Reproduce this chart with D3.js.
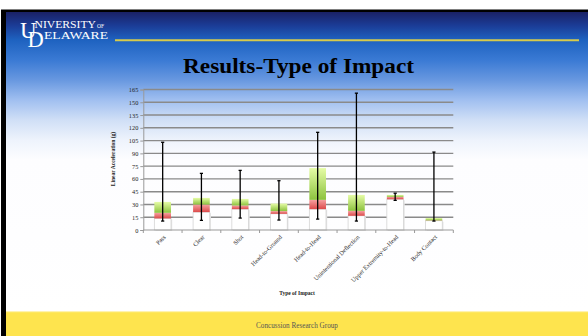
<!DOCTYPE html>
<html><head><meta charset="utf-8">
<script src="https://cdn.jsdelivr.net/npm/d3@7"></script>
<style>html,body{margin:0;padding:0;background:#fff;}svg{display:block;}</style>
</head><body>
<svg id="c" width="588" height="336"></svg>
<script>
const categories = ["Pass","Clear","Shot","Head-to-Ground","Head-to-Head","Unintentional Deflection","Upper Extremity-to-Head","Body Contact"];
const minVals    = [10.5, 11.3, 14.0, 11.7, 12.8, 10.5, 34.8, 10.5];
const q1Vals     = [13.6, 21.0, 24.5, 19.0, 24.5, 16.7, 36.1, 10.9];
const medVals    = [20.2, 29.9, 28.8, 22.2, 35.4, 22.5, 38.9, 11.3];
const q3Vals     = [33.0, 37.7, 36.5, 31.1, 72.7, 41.2, 41.2, 14.0];
const maxVals    = [103.0, 66.5, 70.0, 57.9, 114.7, 160.7, 43.2, 91.5];
const yTicks     = [0,15,30,45,60,75,90,105,120,135,150,165];

const svg = d3.select("#c");
const defs = svg.append("defs");
const bg = defs.append("linearGradient").attr("id","bg").attr("x1",0).attr("y1",0).attr("x2",0).attr("y2",1);
[[0,"#1a2166"],[0.045,"#1b3c96"],[0.093,"#1e62c0"],[0.16,"#3a7ad4"],[0.227,"#6898e0"],[0.293,"#a0bff0"],[0.36,"#d0dff6"],[0.427,"#eef3fc"],[0.493,"#fdfdff"],[1,"#ffffff"]]
  .forEach(s=>bg.append("stop").attr("offset",s[0]).attr("stop-color",s[1]));
const gG = defs.append("linearGradient").attr("id","gG").attr("x1",0).attr("y1",0).attr("x2",0).attr("y2",1);
gG.append("stop").attr("offset",0).attr("stop-color","#e6fca6");
gG.append("stop").attr("offset",1).attr("stop-color","#8cc23e");
const gR = defs.append("linearGradient").attr("id","gR").attr("x1",0).attr("y1",0).attr("x2",0).attr("y2",1);
gR.append("stop").attr("offset",0).attr("stop-color","#f5a0a0");
gR.append("stop").attr("offset",1).attr("stop-color","#dc4a4a");

// slide frame
svg.append("rect").attr("x",1).attr("y",9.5).attr("width",587).attr("height",327).attr("fill","#000");
svg.append("rect").attr("x",6).attr("y",12).attr("width",582).attr("height",300).attr("fill","url(#bg)");
svg.append("rect").attr("x",6).attr("y",312).attr("width",582).attr("height",24).attr("fill","#fee44e");
svg.append("rect").attr("x",6).attr("y",311).attr("width",582).attr("height",1.2).attr("fill","#fff3b0");
svg.append("text").attr("x",297).attr("y",327.5).attr("text-anchor","middle")
  .attr("font-family","Liberation Serif").attr("font-size",7.2).attr("fill","#555").text("Concussion Research Group");

// logo (interlocked U and D, as in the reference)
const logo = svg.append("g").attr("fill","#fff").attr("font-family","Liberation Serif");
logo.append("text").attr("x",20).attr("y",37.5).attr("font-size",23).text("U");
logo.append("text").attr("x",27.5).attr("y",47).attr("font-size",22.5).text("D");
logo.append("text").attr("x",34.5).attr("y",28).attr("font-size",10.5).attr("textLength",61.5).attr("lengthAdjust","spacingAndGlyphs").text("NIVERSITY");
logo.append("text").attr("x",97).attr("y",28).attr("font-size",5.5).text("OF");
logo.append("text").attr("x",44).attr("y",38.5).attr("font-size",10.5).attr("textLength",64).attr("lengthAdjust","spacingAndGlyphs").text("ELAWARE");
svg.append("line").attr("x1",115).attr("x2",579).attr("y1",40.3).attr("y2",40.3).attr("stroke","#d6ca4c").attr("stroke-width",2);

// title
svg.append("text").attr("x",183).attr("y",73)
  .attr("font-family","Liberation Serif").attr("font-weight","bold").attr("font-size",21.5).attr("fill","#000")
  .attr("textLength",231).attr("lengthAdjust","spacingAndGlyphs")
  .text("Results-Type of Impact");

// chart
const L=143.3, R=453.3, T=89.5, B=230;
const x = d3.scaleBand().domain(categories).range([L,R]).paddingInner(0.57).paddingOuter(0.285);
const y = d3.scaleLinear().domain([0,165]).range([B,T]);

// gridlines
svg.append("g").selectAll("line").data(yTicks.filter(d=>d>0)).join("line")
  .attr("x1",L).attr("x2",R).attr("y1",d=>y(d)).attr("y2",d=>y(d))
  .attr("stroke","#8a8a8a").attr("stroke-width",1.4);

// y axis
const ya = svg.append("g").attr("transform",`translate(${L},0)`)
  .call(d3.axisLeft(y).tickValues(yTicks).tickSize(3).tickPadding(2));
ya.select(".domain").attr("stroke","#999").attr("stroke-width",1);
ya.selectAll(".tick line").attr("stroke","#999");
ya.selectAll("text").attr("font-family","Liberation Serif").attr("font-size",6.3).attr("fill","#222");

// bars
const idx = d3.range(categories.length);
const bw = x.bandwidth();
svg.append("g").selectAll("rect").data(idx).join("rect")
  .attr("x",i=>x(categories[i])+1.2).attr("y",i=>y(q1Vals[i])+1).attr("width",bw).attr("height",i=>y(0)-y(q1Vals[i]))
  .attr("fill","#e4e4e4");
svg.append("g").selectAll("rect").data(idx).join("rect")
  .attr("x",i=>x(categories[i])).attr("y",i=>y(q1Vals[i])).attr("width",bw).attr("height",i=>y(0)-y(q1Vals[i]))
  .attr("fill","#fff").attr("stroke","#d4d4d4").attr("stroke-width",0.8);
svg.append("g").selectAll("rect").data(idx).join("rect")
  .attr("x",i=>x(categories[i])).attr("y",i=>y(medVals[i])).attr("width",bw).attr("height",i=>y(q1Vals[i])-y(medVals[i]))
  .attr("fill","url(#gR)");
svg.append("g").selectAll("rect").data(idx).join("rect")
  .attr("x",i=>x(categories[i])).attr("y",i=>y(q3Vals[i])).attr("width",bw).attr("height",i=>y(medVals[i])-y(q3Vals[i]))
  .attr("fill","url(#gG)");

// x axis
const xa = svg.append("g").attr("transform",`translate(0,${B})`);
xa.append("line").attr("x1",L).attr("x2",R).attr("stroke","#999").attr("stroke-width",1);
const step = x.step();
xa.selectAll(".tk").data(d3.range(categories.length+1)).join("line").attr("class","tk")
  .attr("x1",i=>L+i*step).attr("x2",i=>L+i*step).attr("y1",0).attr("y2",3).attr("stroke","#999");
xa.selectAll("text").data(categories).join("text")
  .attr("transform",d=>`translate(${x(d)+bw/2+3.5},${7.5}) rotate(-45)`)
  .attr("text-anchor","end").attr("font-family","Liberation Serif").attr("font-size",6.2).attr("fill","#222")
  .text(d=>d);

// error bars
const eb = svg.append("g").attr("stroke","#000").attr("stroke-width",1.3);
eb.selectAll(".v").data(idx).join("line").attr("class","v")
  .attr("x1",i=>x(categories[i])+bw/2).attr("x2",i=>x(categories[i])+bw/2)
  .attr("y1",i=>y(minVals[i])).attr("y2",i=>y(maxVals[i]));
eb.selectAll(".t").data(idx).join("line").attr("class","t")
  .attr("x1",i=>x(categories[i])+bw/2-1.6).attr("x2",i=>x(categories[i])+bw/2+1.6)
  .attr("y1",i=>y(maxVals[i])).attr("y2",i=>y(maxVals[i]));
eb.selectAll(".b").data(idx).join("line").attr("class","b")
  .attr("x1",i=>x(categories[i])+bw/2-1.6).attr("x2",i=>x(categories[i])+bw/2+1.6)
  .attr("y1",i=>y(minVals[i])).attr("y2",i=>y(minVals[i]));

// axis titles
svg.append("text").attr("transform",`translate(115,159) rotate(-90)`).attr("text-anchor","middle")
  .attr("font-family","Liberation Serif").attr("font-weight","bold").attr("font-size",5.5).attr("fill","#222")
  .text("Linear Acceleration (g)");
svg.append("text").attr("x",297).attr("y",295).attr("text-anchor","middle")
  .attr("font-family","Liberation Serif").attr("font-weight","bold").attr("font-size",5.5).attr("fill","#222")
  .text("Type of Impact");
</script>
</body></html>
